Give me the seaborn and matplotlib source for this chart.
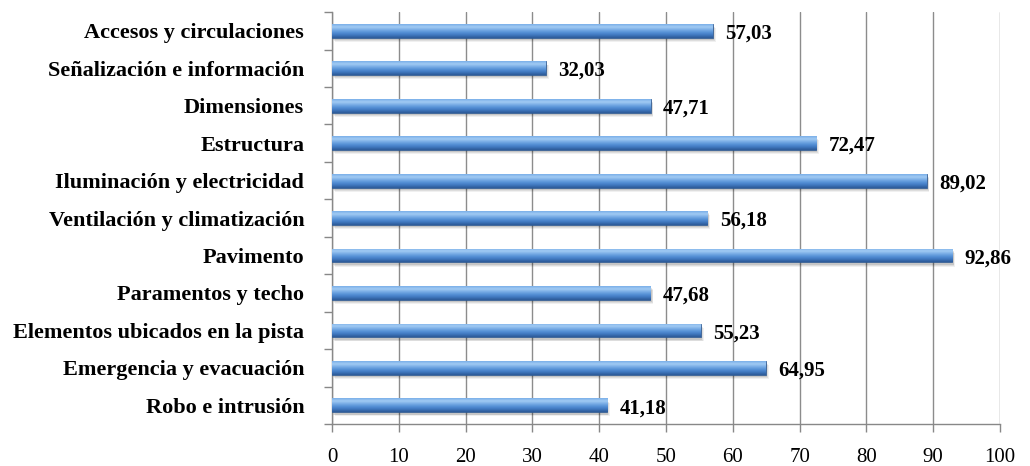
import numpy as np
import matplotlib
matplotlib.use("Agg")
import matplotlib.pyplot as plt
from matplotlib.colors import LinearSegmentedColormap
import seaborn as sns
import pandas as pd

categories = [
    "Accesos y circulaciones",
    "Señalización e información",
    "Dimensiones",
    "Estructura",
    "Iluminación y electricidad",
    "Ventilación y climatización",
    "Pavimento",
    "Paramentos y techo",
    "Elementos ubicados en la pista",
    "Emergencia y evacuación",
    "Robo e intrusión",
]
values = [57.03, 32.03, 47.71, 72.47, 89.02, 56.18, 92.86, 47.68, 55.23, 64.95, 41.18]
x_ticks = [0, 10, 20, 30, 40, 50, 60, 70, 80, 90, 100]

df = pd.DataFrame({"categoria": categories, "valor": values})

sns.set_theme(style="white")
plt.rcParams["font.family"] = ["Liberation Serif", "DejaVu Serif"]

fig = plt.figure(figsize=(10.30, 4.66), dpi=100)
ax = fig.add_axes([0.3223, 0.090, 0.6486, 0.884])

sns.barplot(data=df, y="categoria", x="valor", orient="h", ax=ax,
            width=0.37, color="#4f81bd", saturation=1, zorder=3)

# cylinder-like shading for each bar (row 0 = top edge)
shade = LinearSegmentedColormap.from_list(
    "shade", ["#78aee8", "#a3ccf4", "#79ade6", "#5590d6", "#3f77be", "#2c5996"])
grad = np.linspace(0, 1, 64).reshape(-1, 1)
for p in ax.patches:
    x0, y0 = p.get_x(), p.get_y()
    w, h = p.get_width(), p.get_height()
    # soft drop shadow under the bar
    for k, a in enumerate([0.10, 0.08, 0.06]):
        ax.add_patch(plt.Rectangle((x0 + 0.2 + 0.1 * k, y0 + 0.06 + 0.025 * k), w, h,
                                   facecolor="#000000", alpha=a, edgecolor="none", zorder=2))
    p.set_facecolor("none")
    p.set_edgecolor("#2d5a93")
    p.set_linewidth(0.6)
    im = ax.imshow(grad, cmap=shade, aspect="auto", extent=(x0, x0 + w, y0 + h, y0),
                   zorder=3, interpolation="bicubic")
    im.set_clip_path(p)

value_texts = ax.bar_label(ax.containers[0],
                           labels=[f"{v:.2f}".replace(".", ",") for v in values],
                           padding=9, fontsize=15, fontweight="bold", color="black", zorder=5)
for t in value_texts:
    xo, yo = t.xyann
    t.xyann = (xo, yo - 2)

ax.set_xlim(0, 100)
ax.set_ylim(len(categories) - 0.5, -0.5)
ax.set_xticks(x_ticks)
ax.set_xticklabels([str(t) for t in x_ticks], fontsize=15, color="black")
ax.set_yticks(range(len(categories)))
ax.set_yticklabels(categories, fontsize=16, fontweight="bold", color="black")
ax.set_yticks(np.arange(-0.5, len(categories), 1.0), minor=True)
ax.tick_params(axis="y", which="major", length=0, pad=20)
ax.tick_params(axis="y", which="minor", length=6, width=1, color="#888888", direction="out", left=True)
ax.tick_params(axis="x", which="major", length=6, width=1, color="#888888", direction="out", bottom=True, pad=11)
ax.set_xlabel("")
ax.set_ylabel("")

ax.grid(axis="x", color="#8c8c8c", linewidth=1, zorder=0)
ax.grid(axis="y", visible=False)
ax.set_axisbelow(True)
for side in ["top", "right"]:
    ax.spines[side].set_visible(False)
for side in ["left", "bottom"]:
    ax.spines[side].set_color("#888888")
    ax.spines[side].set_linewidth(1)

fig.savefig("out.png", dpi=100)
